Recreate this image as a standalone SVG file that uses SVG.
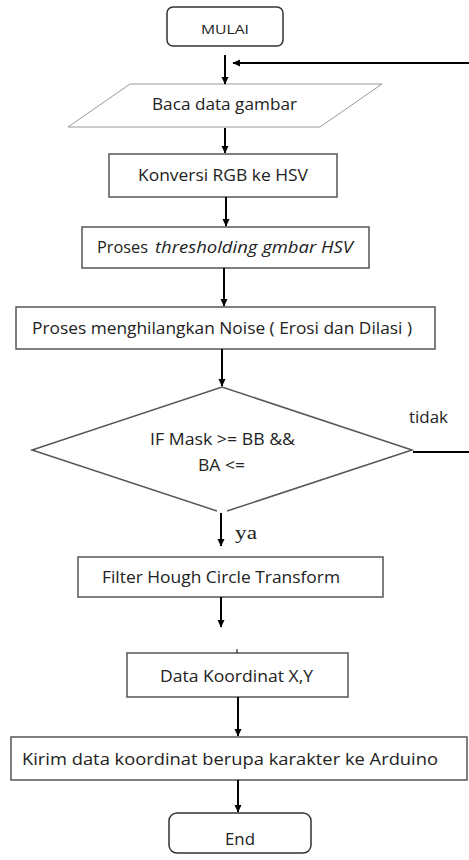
<svg xmlns="http://www.w3.org/2000/svg" width="469" height="860" viewBox="0 0 469 860">
<style>
.box{fill:#fff;stroke:#555;stroke-width:1.5}
.term{fill:#fff;stroke:#333;stroke-width:1.5}
.para{fill:#fff;stroke:#999;stroke-width:1}
.dia{fill:none;stroke:#555;stroke-width:1.5}
.t{font-family:"Open Sans","Liberation Sans",sans-serif;font-size:17px;fill:#222}
.ti{font-style:italic}
.c{stroke:#000;stroke-width:2;fill:none}
.ca{stroke:#000;stroke-width:2;fill:none;marker-end:url(#ah)}
</style>
<defs>
<marker id="ah" markerWidth="8" markerHeight="8" refX="7" refY="4" orient="auto" markerUnits="userSpaceOnUse">
<path d="M0,0.5 L7.5,4 L0,7.5 Z" fill="#000"/>
</marker>
</defs>
<rect width="469" height="860" fill="#fff"/>
<g id="mulai">
<rect class="term" x="167" y="7" width="116" height="39" rx="6"/>
<text class="t" x="201" y="34" style="font-size:12.5px" textLength="48" lengthAdjust="spacingAndGlyphs">MULAI</text>
</g>
<g id="baca">
<polygon class="para" points="130,84 382,84 320,127 68,127"/>
<text class="t" x="152" y="110" textLength="145" lengthAdjust="spacingAndGlyphs">Baca data gambar</text>
</g>
<g id="konversi">
<rect class="box" x="109" y="154" width="228" height="43"/>
<text class="t" x="138" y="181" textLength="170" lengthAdjust="spacingAndGlyphs">Konversi RGB ke HSV</text>
</g>
<g id="threshold">
<rect class="box" x="82" y="227" width="287" height="41"/>
<text class="t" x="97" y="253" textLength="51" lengthAdjust="spacingAndGlyphs">Proses</text>
<text class="t ti" x="155" y="253" textLength="198" lengthAdjust="spacingAndGlyphs">thresholding gmbar HSV</text>
</g>
<g id="noise">
<rect class="box" x="16" y="307" width="419" height="42"/>
<text class="t" x="32" y="334" textLength="380" lengthAdjust="spacingAndGlyphs">Proses menghilangkan Noise ( Erosi dan Dilasi )</text>
</g>
<g id="decision">
<polyline class="dia" points="217,511 32,450 222,387 412,450 227,511"/>
<text class="t" x="150" y="445" textLength="145" lengthAdjust="spacingAndGlyphs">IF Mask &gt;= BB &amp;&amp;</text>
<text class="t" x="198" y="471" textLength="47" lengthAdjust="spacingAndGlyphs">BA &lt;=</text>
</g>
<g id="filter">
<rect class="box" x="78" y="557" width="305" height="40"/>
<text class="t" x="102" y="583" textLength="238" lengthAdjust="spacingAndGlyphs">Filter Hough Circle Transform</text>
</g>
<g id="data">
<rect class="box" x="127" y="653" width="221" height="44"/>
<text class="t" x="160" y="682" textLength="153" lengthAdjust="spacingAndGlyphs">Data Koordinat X,Y</text>
</g>
<g id="kirim">
<rect class="box" x="11" y="737" width="456" height="43"/>
<text class="t" x="22" y="765" textLength="416" lengthAdjust="spacingAndGlyphs">Kirim data koordinat berupa karakter ke Arduino</text>
</g>
<g id="end">
<rect class="term" x="169" y="813" width="142" height="40" rx="8"/>
<text class="t" x="225" y="845" textLength="30" lengthAdjust="spacingAndGlyphs">End</text>
</g>
<g id="connectors">
<line class="ca" x1="225" y1="55" x2="225" y2="84"/>
<line class="ca" x1="469" y1="63" x2="233" y2="63"/>
<line class="ca" x1="225" y1="128" x2="225" y2="153"/>
<line class="ca" x1="226" y1="197" x2="226" y2="226"/>
<line class="ca" x1="224" y1="268" x2="224" y2="306"/>
<line class="ca" x1="222" y1="349" x2="222" y2="386"/>
<line class="c" x1="413" y1="452" x2="469" y2="452"/>
<line class="ca" x1="221" y1="513" x2="221" y2="546"/>
<line class="ca" x1="221" y1="597" x2="221" y2="627"/>
<line class="c" x1="237" y1="649" x2="237" y2="653" style="stroke-width:1"/>
<line class="ca" x1="238" y1="697" x2="238" y2="736"/>
<line class="ca" x1="238" y1="780" x2="238" y2="812"/>
<text class="t" x="409" y="423" textLength="39" lengthAdjust="spacingAndGlyphs">tidak</text>
<text x="235" y="539" style="font-family:'Liberation Serif',serif;font-size:19px;fill:#222" textLength="22" lengthAdjust="spacingAndGlyphs">ya</text>
</g>
</svg>
